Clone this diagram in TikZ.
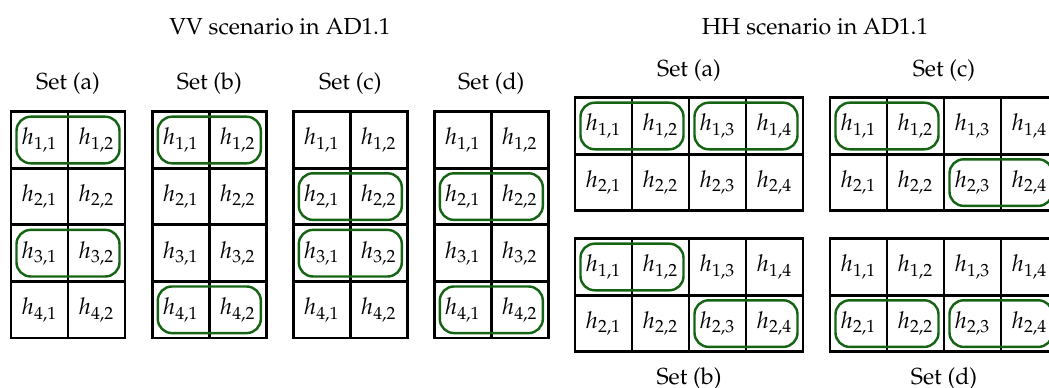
\documentclass[tikz,border=0pt]{standalone}
\usepackage[T1]{fontenc}
\usepackage{mathpazo}
\usetikzlibrary{calc}
\definecolor{pairgreen}{RGB}{20,100,20}
\tikzset{
  cell/.style={draw=black, line width=1.2pt, minimum width=24.57pt, minimum height=24.39pt,
    inner sep=0pt, outer sep=0pt, anchor=center},
  pair/.style={draw=pairgreen, line width=1.05pt, rounded corners=6.1pt},
  label/.style={anchor=base, inner sep=0pt},
}
\begin{document}
\begin{tikzpicture}[x=0.431pt, y=-0.431pt]
\useasboundingbox (0,0) rectangle (1049,388);

% headings
\node[label] (vvtitle) at (280,35) {VV scenario in AD1.1};
\node[label] (hhtitle) at (815,35) {HH scenario in AD1.1};

% VV: four 4x2 grids
\foreach \g/\gx/\lab in {va/11/a, vb/152.3/b, vc/293.3/c, vd/434.3/d} {
  \node[label] (\g-title) at (\gx+57,90) {Set (\lab)};
  \foreach \r in {1,...,4} {
    \foreach \c in {1,2} {
      \node[cell] (\g-\r-\c) at (\gx+57*\c-28.5, 111.7+56.6*\r-28.3) {$h_{\r,\c}$};
    }
  }
}

% HH: four 2x4 grids
\foreach \g/\gx/\gy in {ha/575/97.7, hb/575/238.7, hc/830/97.7, hd/830/238.7} {
  \foreach \r in {1,2} {
    \foreach \c in {1,...,4} {
      \node[cell] (\g-\r-\c) at (\gx+57*\c-28.5, \gy+56.6*\r-28.3) {$h_{\r,\c}$};
    }
  }
}
\node[label] (ha-title) at (689,77) {Set (a)};
\node[label] (hc-title) at (944,77) {Set (c)};
\node[label] (hb-title) at (689,385) {Set (b)};
\node[label] (hd-title) at (944,385) {Set (d)};

% grouped pairs
\foreach \a/\b in {va-1-1/va-1-2, va-3-1/va-3-2,
                   vb-1-1/vb-1-2, vb-4-1/vb-4-2,
                   vc-2-1/vc-2-2, vc-3-1/vc-3-2,
                   vd-2-1/vd-2-2, vd-4-1/vd-4-2,
                   ha-1-1/ha-1-2, ha-1-3/ha-1-4,
                   hb-1-1/hb-1-2, hb-2-3/hb-2-4,
                   hc-1-1/hc-1-2, hc-2-3/hc-2-4,
                   hd-2-1/hd-2-2, hd-2-3/hd-2-4} {
  \draw[pair] ([shift={(5.5,5)}]\a.north west) rectangle ([shift={(-5.5,-5)}]\b.south east);
}
\end{tikzpicture}
\end{document}
